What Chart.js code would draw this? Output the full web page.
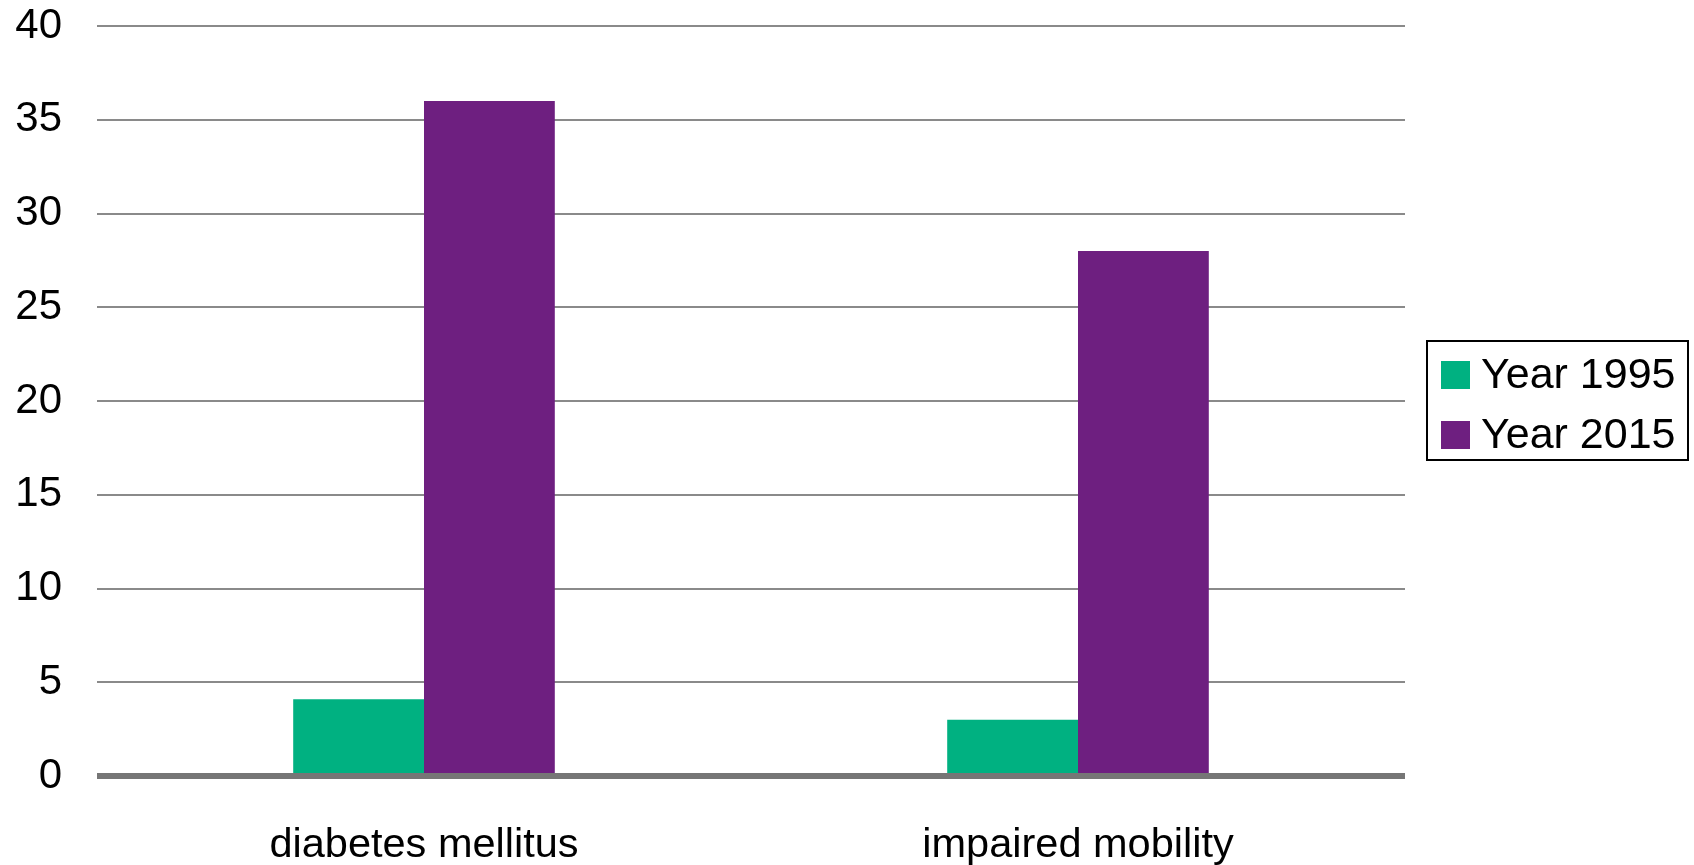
<!DOCTYPE html>
<html>
<head>
<meta charset="utf-8">
<script src="https://cdn.jsdelivr.net/npm/chart.js@4.4.1/dist/chart.umd.min.js"></script>
<style>
  html, body { margin: 0; padding: 0; background: #fff; }
  #wrap { width: 1694px; height: 865px; }
</style>
</head>
<body>
<div id="wrap"><canvas id="bar-chart"></canvas></div>
<script>
// categories and values
const categories = ["diabetes mellitus", "impaired mobility"];
const year1995 = [4.1, 3.0];
const year2015 = [36.0, 28.0];
const yTicks = [0, 5, 10, 15, 20, 25, 30, 35, 40];

const FONT = "'Liberation Sans', Arial, sans-serif";

// legend with a frame, drawn next to the plot
const boxLegend = {
    id: 'boxLegend',
    afterDraw(chart) {
        const ctx = chart.ctx;
        const x0 = 1427, y0 = 341, w = 261, h = 119;
        ctx.save();
        ctx.strokeStyle = '#000';
        ctx.lineWidth = 2;
        ctx.strokeRect(x0, y0, w, h);
        ctx.font = '43px ' + FONT;
        ctx.textBaseline = 'middle';
        chart.data.datasets.forEach((ds, i) => {
            const cy = 375 + i * 60;
            ctx.fillStyle = ds.backgroundColor;
            ctx.fillRect(1441, cy - 14, 29, 28);
            ctx.fillStyle = '#000';
            ctx.fillText(ds.label, 1481, cy + 1);
        });
        ctx.restore();
    }
};

const chart = new Chart(document.getElementById("bar-chart"), {
    type: 'bar',
    data: {
        labels: categories,
        datasets: [{
            label: "Year 1995",
            data: year1995,
            backgroundColor: "#00B181"
        }, {
            label: "Year 2015",
            data: year2015,
            backgroundColor: "#6E1F80"
        }]
    },
    options: {
        responsive: true,
        maintainAspectRatio: false,
        animation: false,
        categoryPercentage: 0.4,
        barPercentage: 1.0,
        layout: { padding: { top: 26, right: 289, left: 0, bottom: 0 } },
        plugins: {
            legend: { display: false },
            tooltip: { enabled: false }
        },
        scales: {
            x: {
                grid: { display: false },
                border: { display: false },
                ticks: {
                    color: '#000',
                    font: { family: FONT, size: 41.5 },
                    padding: 37,
                    maxRotation: 0
                },
                afterFit(scale) { scale.height = 89; }
            },
            y: {
                min: 0,
                max: 40,
                afterBuildTicks(scale) {
                    scale.ticks = yTicks.map(v => ({ value: v }));
                },
                grid: {
                    drawTicks: false,
                    color: ctx => ctx.tick && ctx.tick.value === 0 ? '#767676' : '#8a8a8a',
                    lineWidth: ctx => ctx.tick && ctx.tick.value === 0 ? 6 : 2
                },
                border: { display: false },
                ticks: {
                    color: '#000',
                    font: { family: FONT, size: 42 },
                    padding: 35
                },
                afterFit(scale) {
                    scale.width = 97;
                    scale.paddingTop = 0;
                    scale.paddingBottom = 0;
                }
            }
        }
    },
    plugins: [boxLegend]
});
</script>
</body>
</html>
